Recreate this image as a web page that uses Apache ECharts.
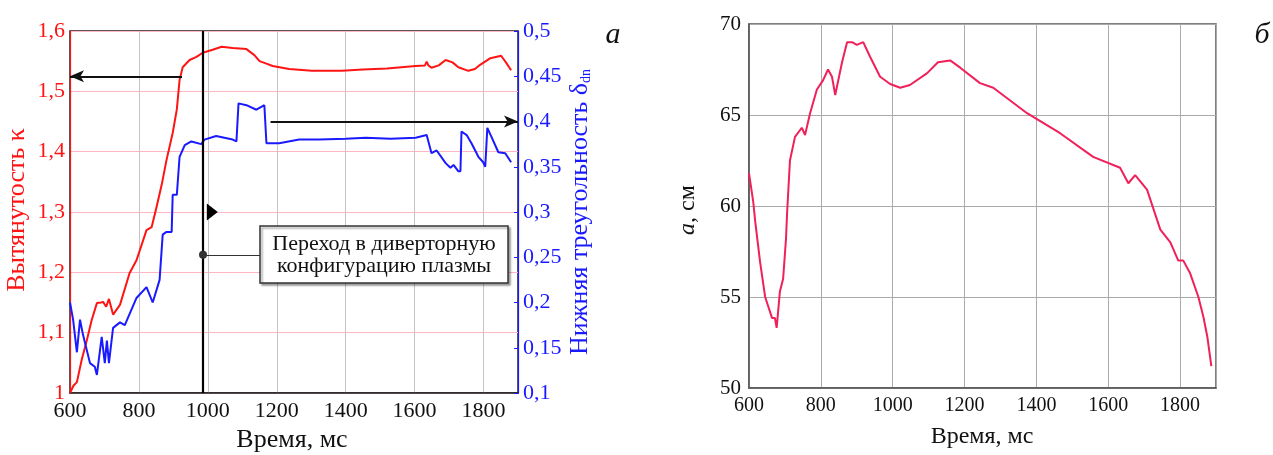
<!DOCTYPE html>
<html>
<head>
<meta charset="utf-8">
<script src="https://cdn.jsdelivr.net/npm/echarts@6/dist/echarts.min.js"></script>
<style>
  html, body { margin: 0; padding: 0; background: #fff; }
  #main { width: 1273px; height: 455px; }
</style>
</head>
<body>
<div id="main"></div>
<script>
// панель а: вытянутость (левая ось) и нижняя треугольность (правая ось)
var kappaT = [600, 610, 620, 634, 649, 663, 678, 690, 696, 705, 713, 725, 745, 773, 793, 822, 837, 851, 866, 880, 898, 910, 918, 927, 947, 967, 985, 1014, 1040, 1072, 1112, 1135, 1150, 1170, 1188, 1236, 1302, 1389, 1450, 1520, 1603, 1630, 1635, 1640, 1649, 1670, 1690, 1710, 1727, 1756, 1775, 1790, 1820, 1851, 1865, 1880];
var kappaV = [1.0, 1.012, 1.018, 1.055, 1.088, 1.121, 1.149, 1.15, 1.151, 1.143, 1.156, 1.13, 1.146, 1.199, 1.22, 1.27, 1.275, 1.308, 1.345, 1.386, 1.431, 1.47, 1.519, 1.54, 1.552, 1.557, 1.564, 1.569, 1.574, 1.572, 1.57, 1.56, 1.55, 1.546, 1.542, 1.537, 1.534, 1.534, 1.536, 1.538, 1.542, 1.543, 1.549, 1.543, 1.539, 1.543, 1.552, 1.548, 1.54, 1.534, 1.537, 1.544, 1.555, 1.559, 1.548, 1.535];

var deltaT = [600, 609, 620, 629, 638, 658, 672, 678, 692, 701, 707, 713, 725, 745, 759, 793, 822, 840, 860, 869, 880, 895, 898, 910, 918, 933, 952, 981, 990, 1024, 1072, 1083, 1089, 1112, 1141, 1164, 1170, 1207, 1265, 1323, 1400, 1458, 1530, 1603, 1635, 1649, 1664, 1690, 1704, 1713, 1727, 1733, 1736, 1751, 1765, 1785, 1799, 1805, 1811, 1823, 1843, 1863, 1880];
var deltaV = [0.2, 0.181, 0.145, 0.181, 0.164, 0.133, 0.129, 0.12, 0.162, 0.133, 0.158, 0.133, 0.172, 0.178, 0.175, 0.205, 0.217, 0.2, 0.225, 0.275, 0.278, 0.278, 0.319, 0.319, 0.361, 0.374, 0.378, 0.375, 0.38, 0.384, 0.38, 0.378, 0.42, 0.418, 0.413, 0.418, 0.376, 0.376, 0.38, 0.38, 0.381, 0.382, 0.381, 0.382, 0.385, 0.365, 0.368, 0.354, 0.349, 0.352, 0.345, 0.345, 0.389, 0.385, 0.376, 0.361, 0.355, 0.35, 0.393, 0.383, 0.366, 0.365, 0.355];

// панель б: малый радиус a
var aT = [600, 612, 617, 631, 645, 664, 672, 677, 686, 695, 703, 706, 714, 728, 747, 756, 770, 789, 806, 820, 831, 840, 859, 873, 887, 900, 918, 937, 965, 993, 1021, 1048, 1096, 1126, 1160, 1188, 1243, 1280, 1374, 1466, 1558, 1633, 1656, 1675, 1708, 1745, 1773, 1795, 1809, 1828, 1851, 1865, 1876, 1887];
var aV = [61.8, 60.2, 59.2, 56.9, 55.0, 53.85, 53.85, 53.3, 55.3, 56.0, 58.2, 59.6, 62.5, 63.8, 64.3, 63.9, 65.1, 66.4, 66.9, 67.5, 67.1, 66.1, 67.9, 69.0, 69.0, 68.85, 69.0, 68.2, 67.1, 66.7, 66.5, 66.65, 67.3, 67.9, 68.0, 67.6, 66.75, 66.5, 65.1, 64.0, 62.7, 62.1, 61.25, 61.7, 60.9, 58.7, 58.0, 57.0, 57.0, 56.3, 55.0, 53.9, 52.8, 51.2];

// моменты и уровни для аннотаций
var transitionT = 986;
var kappaArrow = [925, 1.525];
var deltaArrow = [1182, 0.4];

var FONT = "'Liberation Serif', 'DejaVu Serif', serif";
var RED = '#ff1414';
var BLUE = '#1a1aff';
var PINK = '#f0205a';

function pairs(t, v) {
  return t.map(function (x, i) { return [x, v[i]]; });
}
function comma(v) {
  return String(+v.toFixed(2)).replace('.', ',');
}
function plain(v) {
  return String(v);
}

var chart = echarts.init(document.getElementById('main'));

var option = {
  animation: false,
  grid: [
    { left: 70, top: 31, width: 448, height: 362, show: true, borderColor: '#222', borderWidth: 1.5 },
    { left: 749, top: 24, width: 467, height: 364, show: true, borderColor: '#555', borderWidth: 1.5 }
  ],
  xAxis: [
    {
      gridIndex: 0, type: 'value', min: 600, max: 1900, interval: 200,
      axisLine: { lineStyle: { color: '#222', width: 1.5 } },
      axisTick: { show: false },
      axisLabel: { showMaxLabel: false, color: '#111', fontFamily: FONT, fontSize: 22, margin: 7, formatter: plain },
      splitLine: { lineStyle: { color: '#c4c4c4', width: 1 } }
    },
    {
      gridIndex: 1, type: 'value', min: 600, max: 1900, interval: 200,
      axisLine: { lineStyle: { color: '#555', width: 1.5 } },
      axisTick: { show: false },
      axisLabel: { showMaxLabel: false, color: '#111', fontFamily: FONT, fontSize: 20, margin: 8, formatter: plain },
      splitLine: { lineStyle: { color: '#aaa', width: 1 } }
    }
  ],
  yAxis: [
    {
      gridIndex: 0, type: 'value', min: 1, max: 1.6, interval: 0.1,
      axisLine: { show: true, lineStyle: { color: RED, width: 1.2 } },
      axisTick: { show: false },
      axisLabel: { color: RED, fontFamily: FONT, fontSize: 22, margin: 5, formatter: comma },
      splitLine: { lineStyle: { color: '#ffb4c4', width: 1 } }
    },
    {
      gridIndex: 0, type: 'value', position: 'right', min: 0.1, max: 0.5, interval: 0.05,
      axisLine: { show: true, lineStyle: { color: BLUE, width: 1.2 } },
      axisTick: { show: true, inside: true, length: 4, lineStyle: { color: BLUE } },
      axisLabel: { color: BLUE, fontFamily: FONT, fontSize: 22, margin: 5, formatter: comma },
      splitLine: { show: false }
    },
    {
      gridIndex: 1, type: 'value', min: 50, max: 70, interval: 5,
      axisLine: { show: true, lineStyle: { color: '#555', width: 1.5 } },
      axisTick: { show: false },
      axisLabel: { color: '#111', fontFamily: FONT, fontSize: 21, margin: 8 },
      splitLine: { lineStyle: { color: '#aaa', width: 1 } }
    }
  ],
  series: [
    {
      name: 'kappa', type: 'line', xAxisIndex: 0, yAxisIndex: 0,
      data: pairs(kappaT, kappaV), showSymbol: false,
      lineStyle: { color: RED, width: 2 }, z: 3,
      markLine: {
        silent: true, animation: false,
        label: { show: false },
        data: [
          [
            { coord: kappaArrow, symbol: 'none', lineStyle: { color: '#111', width: 2, type: 'solid' } },
            { coord: [600, kappaArrow[1]], symbol: 'arrow', symbolSize: [9, 14] }
          ],
          [
            { coord: [transitionT, 1.0], symbol: 'none', lineStyle: { color: '#000', width: 2.2, type: 'solid' } },
            { coord: [transitionT, 1.6], symbol: 'none' }
          ],
          [
            { coord: [transitionT, 1.229], symbol: 'circle', symbolSize: 8, lineStyle: { color: '#333', width: 1.2, type: 'solid' } },
            { coord: [1157, 1.229], symbol: 'none' }
          ]
        ]
      },
      markPoint: {
        silent: true, animation: false,
        label: { show: false },
        data: [
          { coord: [1013, 1.3], symbol: 'triangle', symbolSize: [17, 11], symbolRotate: -90, itemStyle: { color: '#000' } }
        ]
      }
    },
    {
      name: 'delta', type: 'line', xAxisIndex: 0, yAxisIndex: 1,
      data: pairs(deltaT, deltaV), showSymbol: false,
      lineStyle: { color: BLUE, width: 2 }, z: 3,
      markLine: {
        silent: true, animation: false,
        label: { show: false },
        data: [
          [
            { coord: deltaArrow, symbol: 'none', lineStyle: { color: '#111', width: 2, type: 'solid' } },
            { coord: [1900, deltaArrow[1]], symbol: 'arrow', symbolSize: [9, 14] }
          ]
        ]
      }
    },
    {
      name: 'a', type: 'line', xAxisIndex: 1, yAxisIndex: 2,
      data: pairs(aT, aV), showSymbol: false,
      lineStyle: { color: PINK, width: 2 }, z: 3
    }
  ],
  graphic: [
    {
      type: 'rect', z: 10,
      shape: { x: 260, y: 226, width: 248, height: 57 },
      style: { fill: '#fff', stroke: '#333', lineWidth: 1.5, shadowBlur: 2, shadowOffsetX: 2, shadowOffsetY: 2, shadowColor: 'rgba(0,0,0,0.35)' }
    },
    {
      type: 'text', z: 11, x: 384, y: 255,
      style: { text: 'Переход в диверторную\nконфигурацию плазмы', font: '22px ' + FONT, fill: '#111', align: 'center', verticalAlign: 'middle', lineHeight: 22 }
    },
    {
      type: 'text', x: 17, y: 210, rotation: Math.PI / 2,
      style: { text: 'Вытянутость κ', font: '26px ' + FONT, fill: RED, align: 'center', verticalAlign: 'middle' }
    },
    {
      type: 'text', x: 580, y: 212, rotation: Math.PI / 2,
      style: {
        text: 'Нижняя треугольность δ{s|dn}', font: '26px ' + FONT, fill: BLUE, align: 'center', verticalAlign: 'middle',
        rich: { s: { fontFamily: FONT, fontSize: 14, fill: BLUE, verticalAlign: 'bottom', padding: [12, 0, 0, 0] } }
      }
    },
    {
      type: 'text', x: 292, y: 440,
      style: { text: 'Время, мс', font: '26px ' + FONT, fill: '#111', align: 'center', verticalAlign: 'middle' }
    },
    {
      type: 'text', x: 982, y: 437,
      style: { text: 'Время, мс', font: '24px ' + FONT, fill: '#111', align: 'center', verticalAlign: 'middle' }
    },
    {
      type: 'text', x: 688, y: 210, rotation: Math.PI / 2,
      style: {
        text: '{i|a}, см', font: '24px ' + FONT, fill: '#111', align: 'center', verticalAlign: 'middle',
        rich: { i: { fontFamily: FONT, fontSize: 24, fontStyle: 'italic', fill: '#111' } }
      }
    },
    {
      type: 'text', x: 613, y: 35,
      style: { text: 'а', font: 'italic 30px ' + FONT, fill: '#111', align: 'center', verticalAlign: 'middle' }
    },
    {
      type: 'text', x: 1262, y: 35,
      style: { text: 'б', font: 'italic 30px ' + FONT, fill: '#111', align: 'center', verticalAlign: 'middle' }
    }
  ]
};

chart.setOption(option);
</script>
</body>
</html>
